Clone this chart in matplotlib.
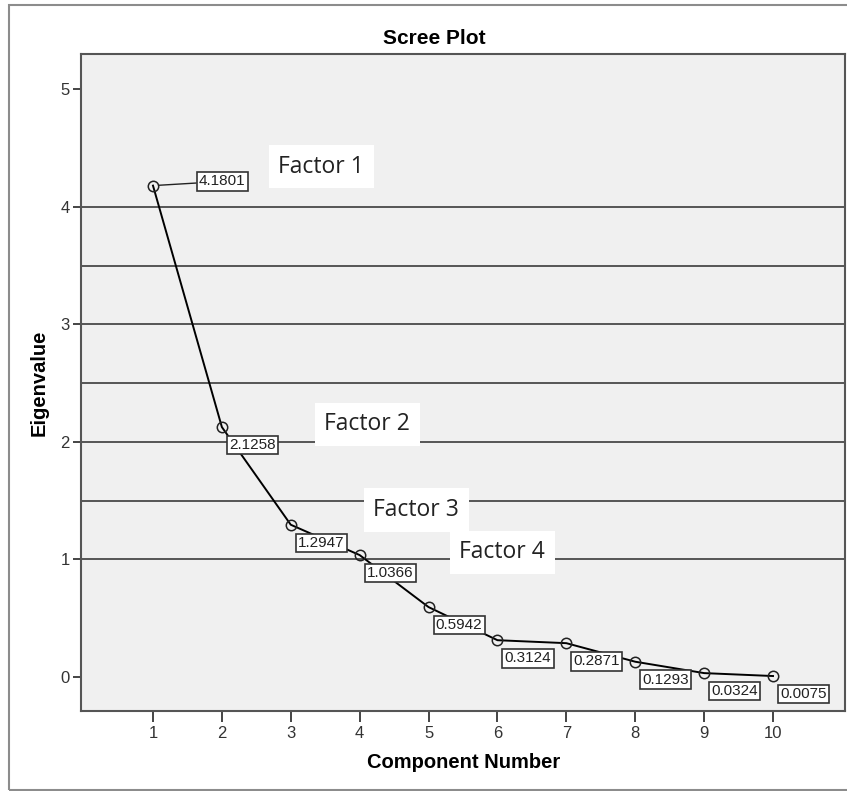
import matplotlib.pyplot as plt
import matplotlib.patches as mpatches

components = [1, 2, 3, 4, 5, 6, 7, 8, 9, 10]
eigenvalues = [4.1801, 2.1258, 1.2947, 1.0366, 0.5942, 0.3124, 0.2871, 0.1293, 0.0324, 0.0075]
value_labels = ["4.1801", "2.1258", "1.2947", "1.0366", "0.5942",
                "0.3124", "0.2871", "0.1293", "0.0324", "0.0075"]
ref_lines = [1, 1.5, 2, 2.5, 3, 3.5, 4]
factor_names = ["Factor 1", "Factor 2", "Factor 3", "Factor 4"]
factor_x = [3.44, 4.11, 4.82, 6.07]
factor_y = [4.34, 2.15, 1.42, 1.06]


def main():
    plt.rcParams['font.family'] = ['Liberation Sans', 'DejaVu Sans']
    fig = plt.figure(figsize=(8.47, 7.91), dpi=100)
    fig.patch.set_facecolor('white')

    # outer frame round the whole chart
    frame = mpatches.Rectangle((9 / 847, 1 / 791), 1.2, 785 / 791, transform=fig.transFigure,
                               fill=False, edgecolor='#8c8c8c', linewidth=1.5)
    fig.patches.append(frame)

    ax = fig.add_axes([81 / 847, 80 / 791, 764 / 847, 657 / 791])
    ax.set_facecolor('#f0f0f0')

    for v in ref_lines:
        ax.axhline(v, color='#555555', linewidth=1.4, zorder=1)

    ax.plot(components, eigenvalues, color='black', linewidth=1.4, zorder=3)
    ax.plot(components, eigenvalues, 'o', markersize=7.5, markerfacecolor='none',
            markeredgecolor='#222222', markeredgewidth=1.1, zorder=4)

    for i in range(len(components)):
        if i == 0:
            off = (50, 3)
            arrow = dict(arrowstyle='-', color='#222222', linewidth=1.0,
                         shrinkA=0, shrinkB=4)
        else:
            off = (22, -13)
            arrow = None
        ax.annotate(value_labels[i], (components[i], eigenvalues[i]),
                    xytext=off, textcoords='offset points',
                    ha='center', va='center', fontsize=11, color='#222222',
                    bbox=dict(boxstyle='square,pad=0.15', facecolor='white',
                              edgecolor='#333333', linewidth=1.2),
                    arrowprops=arrow, zorder=5)

    for name, fx, fy in zip(factor_names, factor_x, factor_y):
        ax.text(fx, fy, name, ha='center', va='center', fontsize=16.5,
                family=['Open Sans', 'DejaVu Sans'], color='#222222',
                bbox=dict(boxstyle='square,pad=0.42', facecolor='white',
                          edgecolor='none'), zorder=6)

    ax.set_xlim(-0.045, 11.045)
    ax.set_ylim(-0.29, 5.30)
    ax.set_xticks(components)
    ax.set_yticks([0, 1, 2, 3, 4, 5])
    ax.tick_params(axis='x', direction='out', length=8, width=1.4, color='#444444',
                   labelsize=12, labelcolor='#333333', pad=3)
    ax.tick_params(axis='y', direction='out', length=6, width=1.4, color='#444444',
                   labelsize=12, labelcolor='#333333', pad=2)
    for s in ax.spines.values():
        s.set_color('#555555')
        s.set_linewidth(1.5)

    ax.set_xlabel('Component Number', fontsize=14.5, fontweight='bold', va='center')
    ax.set_ylabel('Eigenvalue', fontsize=14.5, fontweight='bold', va='center')
    ax.xaxis.set_label_coords(0.501, -0.078)
    ax.yaxis.set_label_coords(-0.055, 0.499)
    fig.text(434 / 847, 1 - 39 / 791, 'Scree Plot', ha='center', va='center',
             fontsize=15, fontweight='bold')

    fig.savefig('out.png', dpi=100)


main()
